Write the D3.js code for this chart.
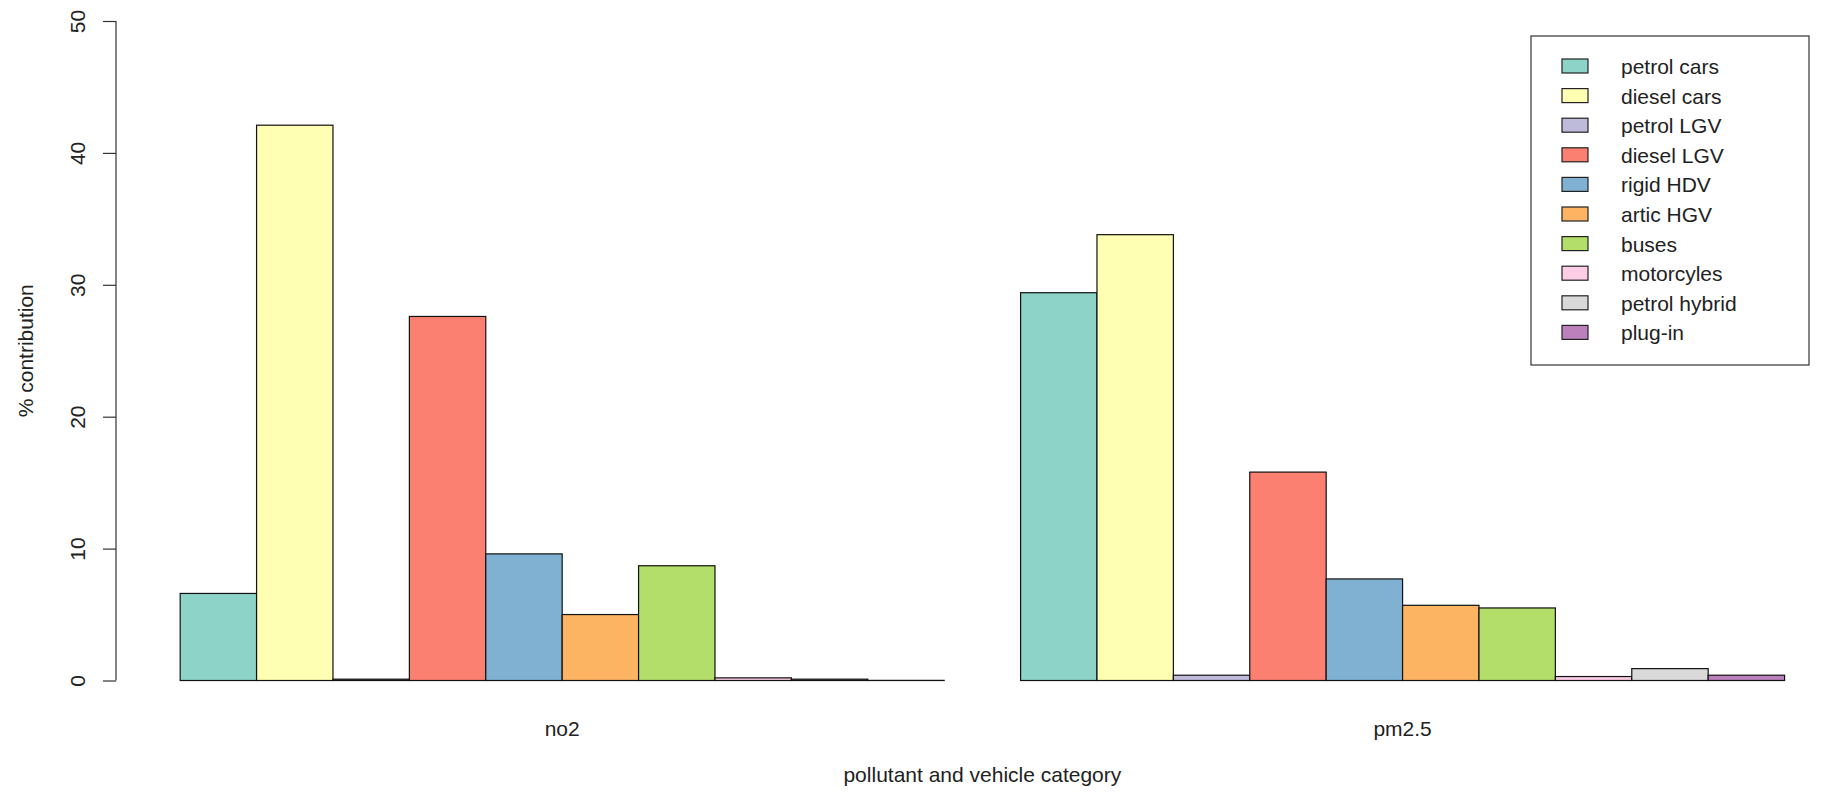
<!DOCTYPE html>
<html>
<head>
<meta charset="utf-8">
<script src="https://cdn.jsdelivr.net/npm/d3@7"></script>
<style>
  html, body { margin: 0; padding: 0; background: #fff; }
  svg { display: block; font-family: "Liberation Sans", Arial, sans-serif; }
</style>
</head>
<body>
<svg id="chart" width="1823" height="792"></svg>
<script>
// ---- data ----
const pollutants = ["no2", "pm2.5"];
const vehicles = ["petrol cars", "diesel cars", "petrol LGV", "diesel LGV", "rigid HDV",
                  "artic HGV", "buses", "motorcyles", "petrol hybrid", "plug-in"];
const no2Values  = [6.6, 42.1, 0.1, 27.6, 9.6, 5.0, 8.7, 0.2, 0.1, 0.01];
const pm25Values = [29.4, 33.8, 0.4, 15.8, 7.7, 5.7, 5.5, 0.3, 0.9, 0.4];
const colors = ["#8DD3C7", "#FFFFB3", "#BEBADA", "#FB8072", "#80B1D3",
                "#FDB462", "#B3DE69", "#FCCDE5", "#D9D9D9", "#BC80BD"];
const yTicks = [0, 10, 20, 30, 40, 50];
const yLabel = "% contribution";
const xLabel = "pollutant and vehicle category";

const seriesByPollutant = [no2Values, pm25Values];

// ---- layout (R barplot style: beside=TRUE, space=c(0,1)) ----
const svg = d3.select("#chart");
const unitPx = 76.4;
const nBars = vehicles.length;
const xUnitMin = 1 - 0.04 * 21, xUnitMax = 22 + 0.04 * 21;
const plotLeft = 116;
const x = d3.scaleLinear().domain([xUnitMin, xUnitMax])
  .range([plotLeft, plotLeft + (xUnitMax - xUnitMin) * unitPx]);
const y = d3.scaleLinear().domain([0, 50]).range([680.5, 21]);

const bars = [];
seriesByPollutant.forEach((vals, g) => {
  vals.forEach((v, i) => {
    bars.push({ g, i, v, x0: 1 + g * (nBars + 1) + i });
  });
});

svg.append("g").selectAll("rect").data(bars).join("rect")
  .attr("x", d => x(d.x0))
  .attr("y", d => y(d.v))
  .attr("width", d => x(d.x0 + 1) - x(d.x0))
  .attr("height", d => Math.max(0.1, y(0) - y(d.v)))
  .attr("fill", d => colors[d.i])
  .attr("stroke", "#111")
  .attr("stroke-width", 1.2);

// y axis
const yAxis = d3.axisLeft(y).tickValues(yTicks).tickSize(13).tickPadding(0).tickFormat(d3.format("d"));
const yg = svg.append("g").attr("transform", `translate(${plotLeft},0)`).call(yAxis);
yg.select(".domain").attr("stroke", "#333").attr("stroke-width", 1.2).attr("d", `M0,${y(50)}V${y(0)}`);
yg.selectAll(".tick line").attr("stroke", "#333").attr("stroke-width", 1.2);
yg.selectAll(".tick text")
  .attr("font-size", 21)
  .attr("fill", "#222")
  .attr("text-anchor", "middle")
  .attr("dy", 0)
  .attr("x", 0)
  .attr("transform", "translate(-31,0) rotate(-90)");

// x group labels
svg.append("g").selectAll("text").data(pollutants).join("text")
  .attr("x", (d, g) => x(1 + g * (nBars + 1) + nBars / 2))
  .attr("y", 736)
  .attr("text-anchor", "middle")
  .attr("font-size", 21)
  .attr("fill", "#222")
  .text(d => d);

// axis titles
svg.append("text")
  .attr("x", (x.range()[0] + x.range()[1]) / 2)
  .attr("y", 782)
  .attr("text-anchor", "middle")
  .attr("font-size", 21)
  .attr("fill", "#222")
  .text(xLabel);

svg.append("text")
  .attr("transform", `translate(33,${(y(0) + y(50)) / 2}) rotate(-90)`)
  .attr("text-anchor", "middle")
  .attr("font-size", 21)
  .attr("fill", "#222")
  .text(yLabel);

// legend
const lg = svg.append("g");
lg.append("rect")
  .attr("x", 1531).attr("y", 36).attr("width", 278).attr("height", 329)
  .attr("fill", "#fff").attr("stroke", "#333").attr("stroke-width", 1.2);
const rowH = 29.6;
const items = lg.selectAll("g.item").data(vehicles).join("g")
  .attr("class", "item")
  .attr("transform", (d, i) => `translate(0,${66 + i * rowH})`);
items.append("rect")
  .attr("x", 1562).attr("y", -7).attr("width", 26).attr("height", 14)
  .attr("fill", (d, i) => colors[i]).attr("stroke", "#222").attr("stroke-width", 1.2);
items.append("text")
  .attr("x", 1621).attr("y", 8)
  .attr("font-size", 21)
  .attr("fill", "#222")
  .text(d => d);
</script>
</body>
</html>
